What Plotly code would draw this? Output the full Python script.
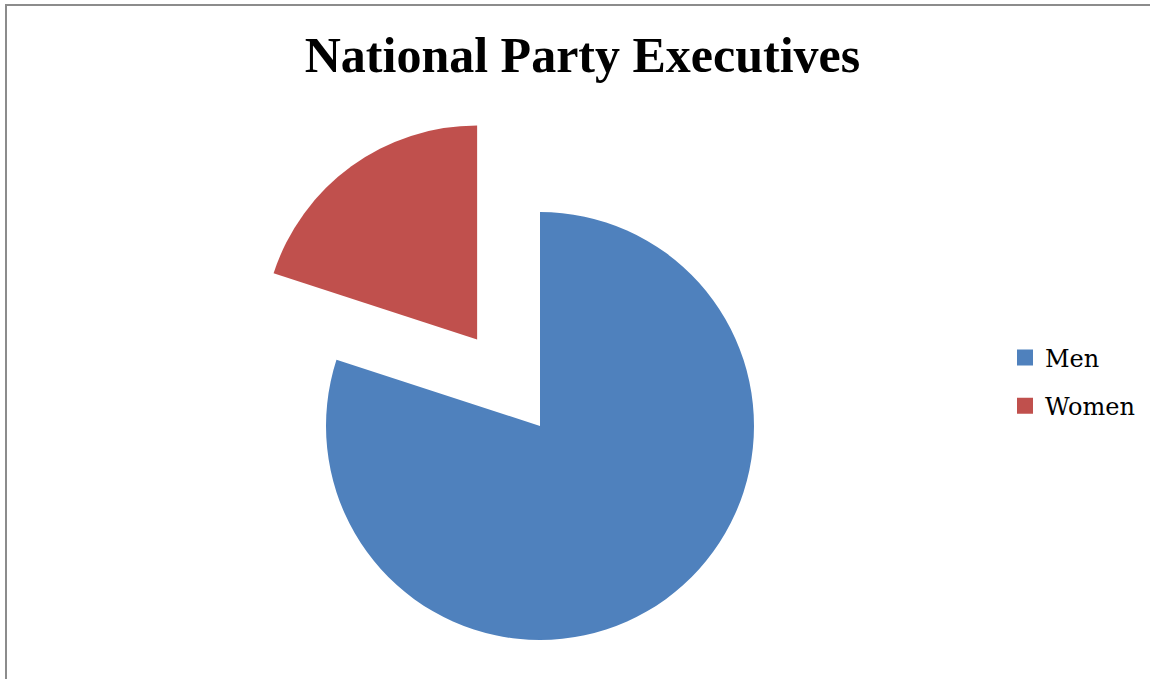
import math
import plotly.graph_objects as go

# ---- data ----
labels = ["Men", "Women"]
values = [80, 20]
colors = ["#4F81BD", "#C0504D"]
title_text = "National Party Executives"

# ---- layout geometry (pixels) ----
W, H = 1150, 679
CX, CY, R = 540, 426, 214
PULL = 0.5
TRANSPARENT = "rgba(0,0,0,0)"


def domain(cx, cy):
    return dict(x=[(cx - R) / W, (cx + R) / W],
                y=[(H - cy - R) / H, (H - cy + R) / H])


# exploded slice offset along its mid-angle (clockwise from 12 o'clock)
total = sum(values)
mid = 2 * math.pi * (values[0] + values[1] / 2) / total
off_cx = CX + PULL * R * math.sin(mid)
off_cy = CY - PULL * R * math.cos(mid)

fig = go.Figure()

common = dict(labels=labels, values=values, sort=False, direction="clockwise",
              rotation=0, textinfo="none", hoverinfo="label+percent",
              showlegend=False)

# main pie: Men slice in place
fig.add_trace(go.Pie(**common,
                     marker=dict(colors=[colors[0], TRANSPARENT], line=dict(width=0)),
                     domain=domain(CX, CY)))
# exploded Women slice
fig.add_trace(go.Pie(**common,
                     marker=dict(colors=[TRANSPARENT, colors[1]], line=dict(width=0)),
                     domain=domain(off_cx, off_cy)))

# legend entries
for lab, col in zip(labels, colors):
    fig.add_trace(go.Scatter(x=[None], y=[None], mode="markers", name=lab,
                             legendgroup=lab,
                             marker=dict(symbol="square", size=16, color=col)))

fig.update_layout(
    width=W, height=H,
    margin=dict(l=0, r=0, t=0, b=0, pad=0, autoexpand=False),
    paper_bgcolor="white", plot_bgcolor=TRANSPARENT,
    xaxis=dict(visible=False), yaxis=dict(visible=False),
    title=dict(text="<b>" + title_text + "</b>",
               font=dict(family="Liberation Serif", size=50, color="black"),
               x=582.5 / W, xanchor="center", xref="paper",
               y=1 - 54.5 / H, yanchor="middle", yref="container"),
    legend=dict(x=1005 / W, xanchor="left", y=1 - 382 / H, yanchor="middle",
                font=dict(family="DejaVu Serif", size=24, color="black"),
                tracegroupgap=14, bgcolor=TRANSPARENT),
    shapes=[
        dict(type="line", xref="paper", yref="paper", x0=6 / W, x1=6 / W, y0=0, y1=1 - 5 / H,
             line=dict(color="#8C8C8C", width=2)),
        dict(type="line", xref="paper", yref="paper", x0=5 / W, x1=1, y0=1 - 5 / H, y1=1 - 5 / H,
             line=dict(color="#8C8C8C", width=2)),
    ],
)

fig.write_html("out.html")
